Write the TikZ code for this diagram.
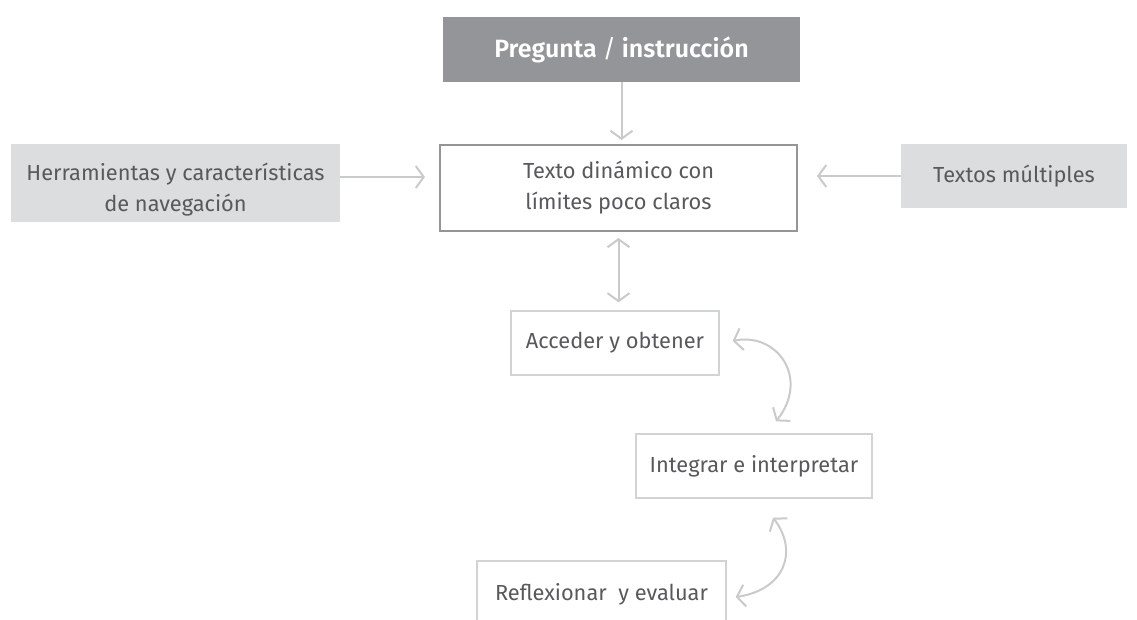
\documentclass[tikz,border=0pt]{standalone}
\usepackage{fontspec}
\setmainfont{Fira Sans}[BoldFont=* SemiBold]
\usetikzlibrary{arrows.meta,calc}
\definecolor{topgray}{HTML}{939598}
\definecolor{sidegray}{HTML}{DCDDDE}
\definecolor{arrowgray}{HTML}{C9CACB}
\definecolor{txtgray}{HTML}{58595B}
\definecolor{thingray}{HTML}{D2D3D4}
\begin{document}
\begin{tikzpicture}[x=1pt,y=-1pt,
  every node/.style={font=\fontsize{21.8}{31}\selectfont, text=txtgray, align=center, inner sep=0pt},
  topbox/.style={fill=topgray, text=white, font=\fontsize{25}{30}\selectfont\bfseries},
  sidebox/.style={fill=sidegray},
  mainbox/.style={draw=topgray, line width=2pt, fill=white},
  stagebox/.style={draw=thingray, line width=1.3pt, fill=white},
  conn/.style={draw=arrowgray, line width=2pt, -{Straight Barb[length=8pt,width=22pt,line width=2pt]}},
  dconn/.style={draw=arrowgray, line width=2pt, {Straight Barb[length=8pt,width=22pt,line width=2pt]}-{Straight Barb[length=8pt,width=22pt,line width=2pt]}}
]
\useasboundingbox (0,0) rectangle (1137,620);
\begin{scope}
\clip (0,0) rectangle (1137,620);
\node[topbox, minimum width=357pt, minimum height=65pt] (top) at (621.5,49.5) {Pregunta {\mdseries/} instrucción};
\node[mainbox, minimum width=357pt, minimum height=86pt] (main) at (618.5,188) {Texto dinámico con\\límites poco claros};
\node[sidebox, minimum width=329pt, minimum height=78pt,
  label={[yshift=-7pt]center:{Herramientas y características\\de navegación}}] (left) at (175.5,183) {};
\node[sidebox, minimum width=226pt, minimum height=64pt] (right) at (1014,176) {Textos múltiples};
\node[stagebox, minimum width=208pt, minimum height=64pt] (acc) at (615,343) {Acceder y obtener};
\node[stagebox, minimum width=236pt, minimum height=64pt] (int) at (754,466) {Integrar e interpretar};
\node[stagebox, minimum width=249pt, minimum height=66pt] (ref) at (601.5,594) {Reflexionar\ \ y evaluar};

\draw[conn, shorten >=4pt] (top.south) -- (top.south |- main.north);
\coordinate (lstart) at ($(left.east)+(0,-6)$);
\draw[conn, shorten >=14pt] (lstart) -- (lstart -| main.west);
\draw[conn, shorten >=19pt] (right.west) -- (right.west -| main.east);
\draw[dconn, shorten <=6pt, shorten >=8pt] (main.south) -- (main.south |- acc.north);
\coordinate (c1s) at ($(acc.east)+(13,-2)$);
\coordinate (c1e) at ($(int.north)+(22,-12)$);
\draw[dconn] (c1s) .. controls (777,332) and (810,378) .. (c1e);
\coordinate (c2s) at ($(int.south)+(19,19)$);
\coordinate (c2e) at ($(ref.east)+(9,3)$);
\draw[dconn] (c2s) .. controls (799,552) and (784,590) .. (c2e);
\end{scope}
\end{tikzpicture}
\end{document}
